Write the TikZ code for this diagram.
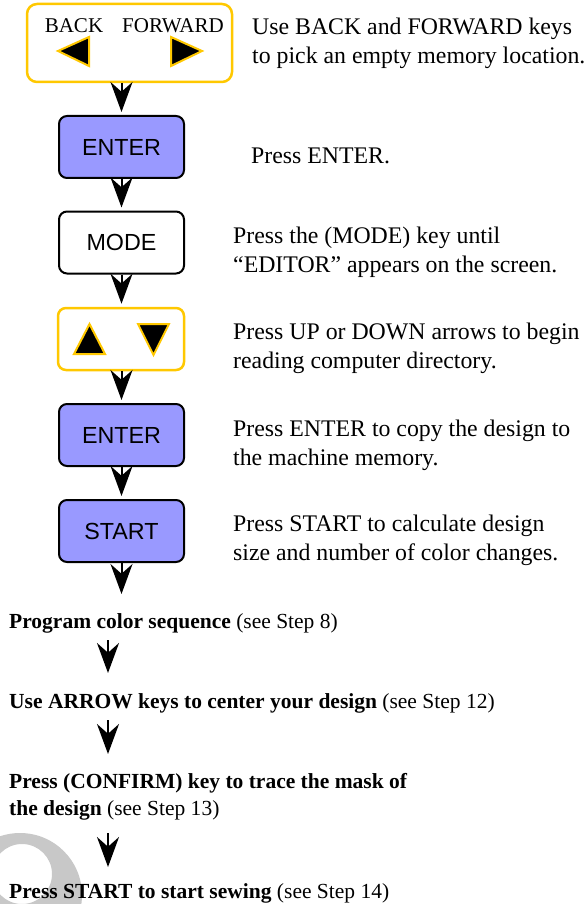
\documentclass[tikz,border=0pt]{standalone}
\usepackage{fontspec}
\setmainfont{Liberation Serif}
\setsansfont{Liberation Sans}
\usetikzlibrary{arrows.meta}
\definecolor{keyblue}{RGB}{153,153,255}
\definecolor{keygold}{RGB}{255,200,0}
\definecolor{moongray}{RGB}{200,200,200}
\begin{document}
\begin{tikzpicture}[x=1pt,y=-1pt,
  keybox/.style={draw=black, line width=2pt, rounded corners=8pt,
    minimum width=125pt, minimum height=62pt, inner sep=0pt,
    font=\sffamily\fontsize{23.3}{23.3}\selectfont},
  bluekey/.style={keybox, fill=keyblue},
  whitekey/.style={keybox, fill=white},
  goldkey/.style={keybox, draw=keygold, line width=2.5pt, fill=white},
  keylabel/.style={anchor=base, inner sep=0pt, font=\fontsize{21}{21}\selectfont},
  tri/.style={fill=black, draw=keygold, line width=2pt, line join=miter},
  desc/.style={anchor=base west, inner sep=0pt, font=\fontsize{23.8}{29}\selectfont},
  stepline/.style={anchor=base west, inner sep=0pt, font=\fontsize{21.5}{28}\selectfont},
  flow/.style={line width=2pt, -{Stealth[length=30pt,width=22pt]}},
  boxflow/.style={flow, shorten >=3pt},
]
\useasboundingbox (0,0) rectangle (586,904);

% decorative crescent
\begin{scope}
  \clip (0,0) rectangle (586,904);
  \fill[moongray, even odd rule] (20,895) circle [radius=62] (22,874) circle [radius=30];
\end{scope}

% keys
\node[goldkey, minimum width=205pt, minimum height=78pt, rounded corners=10pt] (bf) at (129.5,43) {};
\node[keylabel] (back) at (74,33) {BACK};
\node[keylabel] (fwd) at (173,33) {FORWARD};
\draw[tri] (58,51) -- (89,37) -- (89,66) -- cycle;
\draw[tri] (202,51) -- (171,37) -- (171,66) -- cycle;

\node[bluekey] (enter1) at (121.5,147) {ENTER};
\node[whitekey] (mode) at (121.5,242.5) {MODE};
\node[goldkey, minimum width=126pt] (ud) at (121,339) {};
\draw[tri] (74,354) -- (89.5,324) -- (105,354) -- cycle;
\draw[tri] (138,324) -- (169,324) -- (153.5,355) -- cycle;
\node[bluekey] (enter2) at (121.5,435) {ENTER};
\node[bluekey] (start) at (121.5,531) {START};

% connectors between keys
\draw[boxflow] (bf.south -| enter1.north) -- (enter1.north);
\draw[boxflow] (enter1.south) -- (mode.north);
\draw[boxflow] (mode.south) -- (ud.north -| mode.south);
\draw[boxflow] (ud.south -| enter2.north) -- (enter2.north);
\draw[boxflow] (enter2.south) -- (start.north);
\coordinate (startend) at (121.5,594);
\draw[flow] (start.south) -- (startend);

% descriptions
\node[desc] (d1a) at (252,35) {Use BACK and FORWARD keys};
\node[desc] (d1b) at (252,64) {to pick an empty memory location.};
\node[desc] (d2) at (251,164) {Press ENTER.};
\node[desc] (d3a) at (233,243) {Press the (MODE) key until};
\node[desc] (d3b) at (233,272) {“EDITOR” appears on the screen.};
\node[desc] (d4a) at (233,339) {Press UP or DOWN arrows to begin};
\node[desc] (d4b) at (233,368) {reading computer directory.};
\node[desc] (d5a) at (233,436) {Press ENTER to copy the design to};
\node[desc] (d5b) at (233,465) {the machine memory.};
\node[desc] (d6a) at (233,531) {Press START to calculate design};
\node[desc] (d6b) at (233,560) {size and number of color changes.};

% lower steps
\node[stepline] (s1) at (9,628) {\textbf{Program color sequence} (see Step 8)};
\node[stepline] (s2) at (9,708) {\textbf{Use ARROW keys to center your design} (see Step 12)};
\node[stepline] (s3a) at (9,788) {\textbf{Press (CONFIRM) key to trace the mask of}};
\node[stepline] (s3b) at (9,815) {\textbf{the design} (see Step 13)};
\node[stepline] (s4) at (9,898) {\textbf{Press START to start sewing} (see Step 14)};

\coordinate (a1s) at (108,640);
\coordinate (a1e) at (108,673);
\coordinate (a2s) at (108,720);
\coordinate (a2e) at (108,754);
\coordinate (a3s) at (108,833);
\coordinate (a3e) at (108,867);
\draw[flow] (a1s) -- (a1e);
\draw[flow] (a2s) -- (a2e);
\draw[flow] (a3s) -- (a3e);
\end{tikzpicture}
\end{document}
